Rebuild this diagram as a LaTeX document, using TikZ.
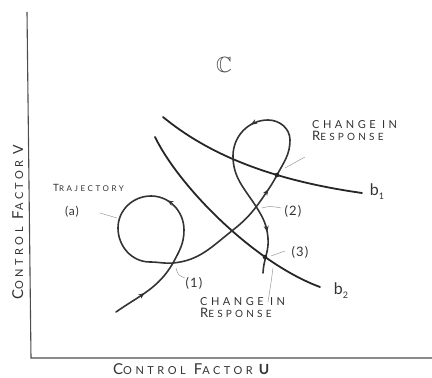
\documentclass[tikz,border=0pt]{standalone}
\usepackage{fontspec}
\usepackage{amssymb}
\usetikzlibrary{arrows.meta,decorations.markings}
\newfontfamily\hand[LetterSpace=32]{Lato}
\newfontfamily\handn[LetterSpace=8]{Lato}
\newcommand\sz[1]{\fontsize{#1}{#1}\selectfont}
\begin{document}
\begin{tikzpicture}[x=1pt,y=1pt,
  bcurve/.style={line width=1.8pt, line cap=round, line join=round, black!85},
  traj/.style={line width=1.6pt, line cap=round, line join=round, black!80},
  leader/.style={line width=0.5pt, black!40},
  arrowmark/.style={postaction={decorate,decoration={markings,
      mark=at position #1 with {\arrow{Stealth[length=6pt,width=5pt]}}}}},
  lbl/.style={font=\hand, inner sep=0pt, black!80},
  numlbl/.style={font=\handn, inner sep=0pt, black!80},
  axisline/.style={line width=1.1pt, black!70}
]
\useasboundingbox (0,0) rectangle (432,378);
% axes
\coordinate (vtop) at (27,366);
\coordinate (org) at (31,20);
\coordinate (hend) at (432,20);
\draw[axisline] (vtop) -- (org) -- (hend);
% key points
\coordinate (S) at (116,66);
\coordinate (P1) at (173,115);
\coordinate (Q) at (277,203);
\coordinate (L) at (233,222);
\coordinate (P2) at (257,170);
\coordinate (P3) at (265,121);
\coordinate (E) at (263,105);
\coordinate (b1s) at (163,261);
\coordinate (b1e) at (362,185);
\coordinate (b2s) at (155,241);
\coordinate (b2e) at (320,91);
% boundaries
\draw[bcurve] (b1s) .. controls (208,224) and (270,198) .. (b1e);
\draw[bcurve] (b2s) .. controls (180,190) and (255,115) .. (b2e);
% trajectory
\draw[traj, arrowmark=0.45] (S) to[out=35,in=240] (P1);
\draw[traj, arrowmark=0.33] (P1) to[out=62,in=270] (184,148) to[out=90,in=0] (151,182)
   to[out=180,in=90] (118,150) to[out=270,in=180] (150,116) to[out=0,in=185] (P1);
\draw[traj, arrowmark=0.88] (P1) to[out=5,in=218] (233,148) to[out=38,in=236] (268,188) to[out=56,in=242] (Q);
\draw[traj, arrowmark=0.7] (Q) to[out=62,in=270] (290,238) to[out=90,in=0] (268,258) to[out=180,in=90] (L);
\draw[traj, arrowmark=0.67] (L) to[out=270,in=122] (P2) to[out=-58,in=95] (268,140) to[out=275,in=88] (E);
\fill[black!85] (Q) circle (2.3);
\fill[black!85] (P3) circle (2.3);
% labels
\node[scale=2.2, black!70] (cset) at (224,313) {$\mathbb{C}$};
\node[numlbl] (bone) at (377,186) {\sz{16}b\raisebox{-4pt}{\sz{9}1}};
\node[numlbl] (btwo) at (341,87) {\sz{16}b\raisebox{-4pt}{\sz{9}2}};
\node[lbl, anchor=base west] (trj) at (53,186) {\sz{10}T\sz{8}RAJECTORY};
\node[numlbl] (la) at (72,166) {\sz{12}(a)};
\coordinate (laend) at (117,160);
\draw[leader] (100,165) -- (laend);
\node[numlbl] (n1) at (194,95) {\sz{13}(1)};
\draw[leader] (176,110) .. controls (178,103) .. (185,100);
\node[numlbl] (n2) at (293,167) {\sz{13}(2)};
\draw[leader] (262,170) .. controls (270,172) .. (281,170);
\node[numlbl] (n3) at (300,126) {\sz{13}(3)};
\draw[leader] (271,122) -- (285,127);
\node[lbl, anchor=base west, align=left] (cirtop) at (312,237)
  {\fontsize{11}{16}\selectfont CHANGE IN\\{\sz{13}R}ESPONSE};
\draw[leader] (285,210) -- (305,221);
\node[lbl, anchor=base west, align=left] (cirbot) at (200,60)
  {\fontsize{11}{15}\selectfont CHANGE IN\\{\sz{13}R}ESPONSE};
\draw[leader] (273,110) .. controls (271,95) .. (268,76);
\node[lbl, anchor=base west] (xlab) at (113,3)
  {{\sz{15}C}{\sz{11}ONTROL}\hspace{8pt}{\sz{15}F}{\sz{11}ACTOR}\hspace{6pt}{\sz{14}\bfseries U}};
\node[lbl, anchor=base west, rotate=90] (ylab) at (23,78)
  {{\sz{15}C}{\sz{11}ONTROL}\hspace{8pt}{\sz{15}F}{\sz{11}ACTOR}\hspace{6pt}{\sz{14}V}};
\end{tikzpicture}
\end{document}
